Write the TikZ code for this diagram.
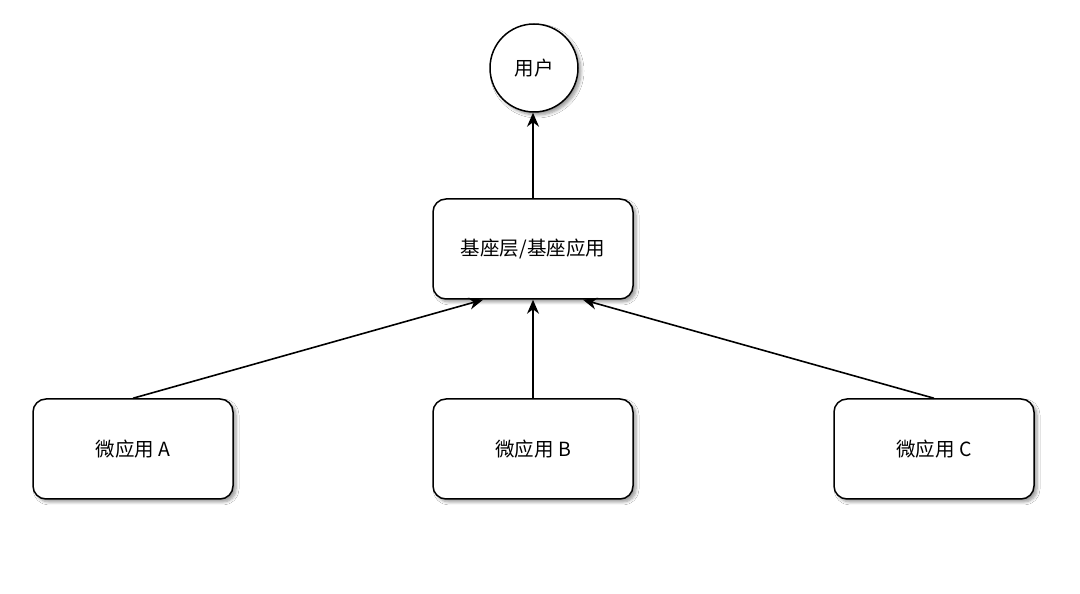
\documentclass[tikz,border=0pt]{standalone}
\usepackage{fontspec}
\newfontfamily\cjk{Noto Sans CJK SC}
\usepackage{tikz}
\usetikzlibrary{arrows.meta,shadows.blur,calc,positioning}

\tikzset{
  appbox/.style={draw, line width=1.5pt, rounded corners=13pt, fill=white,
    minimum width=200pt, minimum height=100pt, font=\cjk\fontsize{19.5}{23}\selectfont,
    blur shadow={shadow blur steps=6, shadow xshift=3pt, shadow yshift=-3pt,
      shadow blur radius=3pt, shadow opacity=40}},
  userbox/.style={draw, circle, line width=1.5pt, fill=white, minimum size=88pt,
    inner sep=0pt, font=\cjk\fontsize{19.5}{23}\selectfont,
    blur shadow={shadow blur steps=6, shadow xshift=3pt, shadow yshift=-3pt,
      shadow blur radius=3pt, shadow opacity=40}},
  link/.style={line width=1.6pt, -{Stealth[length=14pt,width=12pt,inset=4.5pt]}}
}

\begin{document}
\begin{tikzpicture}[x=1pt,y=1pt]
\useasboundingbox[fill=white] (0,0) rectangle (1080,594);

\node[userbox] (user) at (534,526) {用户};
\node[appbox] (base) at (533,345) {基座层/基座应用};

\node[appbox] (appA) at (133,145) {微应用 A};
\node[appbox] (appB) at (533,145) {微应用 B};
\node[appbox] (appC) at (934,145) {微应用 C};

% micro apps up to the base
\draw[link] (appA.north) -- ([xshift=-50pt]base.south);
\draw[link] (appB.north) -- (base.south);
\draw[link] (appC.north) -- ([xshift=50pt]base.south);

% base up to the user
\draw[link] (base.north) -- (base.north |- user.south);
\end{tikzpicture}
\end{document}
